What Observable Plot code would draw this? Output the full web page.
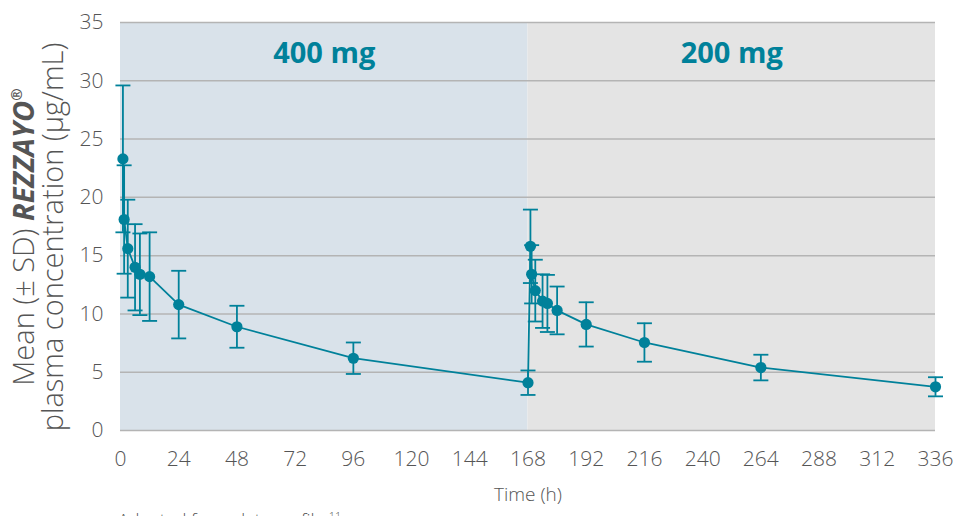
<!DOCTYPE html>
<html>
<head>
<meta charset="utf-8">
<script src="https://cdn.jsdelivr.net/npm/d3@7"></script>
<script src="https://cdn.jsdelivr.net/npm/@observablehq/plot@0.6"></script>
<style>
  html, body { margin: 0; padding: 0; background: #fff; overflow: hidden; }
  #foot { margin: 2px 0 0 118px; font-family: "Open Sans", sans-serif; font-size: 18px; line-height: 18px; color: #555; font-weight: 300; white-space: nowrap; }
</style>
</head>
<body>
<div id="chart"></div>
<div id="foot">Adapted from data on file.<sup style="font-size:11px">11</sup></div>
<script>
// Sampling times (h)
const time = [1, 1.5, 3, 6, 8, 12, 24, 48, 96, 168, 169, 169.5, 171, 174, 176, 180, 192, 216, 264, 336];
// Mean plasma concentration (µg/mL)
const mean = [23.3, 18.1, 15.6, 14.0, 13.4, 13.2, 10.8, 8.9, 6.2, 4.1, 15.8, 13.4, 12.0, 11.1, 10.9, 10.3, 9.1, 7.55, 5.4, 3.75];
// Standard deviation (µg/mL)
const sd = [6.3, 4.65, 4.2, 3.7, 3.5, 3.8, 2.9, 1.8, 1.35, 1.05, 3.15, 2.5, 2.65, 2.3, 2.45, 2.05, 1.9, 1.65, 1.1, 0.82];
// Dose phases
const phaseLabels = ["400 mg", "200 mg"];
const phaseStart = [0, 168];
const phaseEnd = [168, 336];
// Tick labels
const xTicks = [0, 24, 48, 72, 96, 120, 144, 168, 192, 216, 240, 264, 288, 312, 336];
const yTicks = [0, 5, 10, 15, 20, 25, 30, 35];

const teal = "#00819a";
const phaseFill = ["#d9e2ea", "#e4e4e4"];

const data = time.map((t, i) => ({t, mean: mean[i], sd: sd[i]}));
const phases = phaseLabels.map((label, i) => ({label, start: phaseStart[i], end: phaseEnd[i], fill: phaseFill[i]}));

const cap = {
  draw(context, size) {
    const r = Math.sqrt(size / Math.PI);
    context.moveTo(-r, 0);
    context.lineTo(r, 0);
  }
};

const svg = Plot.plot({
  width: 955,
  height: 505,
  marginLeft: 120,
  marginRight: 20,
  marginTop: 22,
  marginBottom: 75,
  style: {fontFamily: "Open Sans, sans-serif", fontSize: "21px", color: "#555", fontWeight: 300, background: "#fff"},
  x: {domain: [0, 336]},
  y: {domain: [0, 35]},
  marks: [
    Plot.rectY(phases, {x1: "start", x2: "end", y1: 0, y2: 35, fill: "fill", inset: 0}),
    Plot.ruleY(yTicks, {stroke: "#b4b4b4", strokeWidth: 1.5}),
    Plot.axisX({ticks: xTicks, tickSize: 0, tickPadding: 21, label: null, tickFormat: d => String(d)}),
    Plot.axisY({ticks: yTicks, tickSize: 0, tickPadding: 17, label: null}),
    Plot.ruleX(data, {x: "t", y1: d => d.mean - d.sd, y2: d => d.mean + d.sd, stroke: teal, strokeWidth: 1.8}),
    Plot.dot(data, {x: "t", y: d => d.mean + d.sd, symbol: cap, r: 7.5, stroke: teal, strokeWidth: 1.8, fill: "none"}),
    Plot.dot(data, {x: "t", y: d => d.mean - d.sd, symbol: cap, r: 7.5, stroke: teal, strokeWidth: 1.8, fill: "none"}),
    Plot.line(data, {x: "t", y: "mean", stroke: teal, strokeWidth: 1.8}),
    Plot.dot(data, {x: "t", y: "mean", r: 5.6, fill: teal, stroke: "none"}),
    Plot.text(phases, {x: d => (d.start + d.end) / 2, frameAnchor: "top", dy: 30, text: "label", fill: teal, fontWeight: 700, fontSize: 29, letterSpacing: "0.5px", dy: 20}),
    Plot.text(["Time (h)"], {frameAnchor: "bottom", dy: 70, text: d => d, fontSize: 19, fill: "#555"})
  ]
});

// Two-line rotated y-axis title with mixed styling
const g = d3.select(svg).append("g")
  .attr("font-family", "Open Sans, sans-serif")
  .attr("font-size", 29)
  .attr("font-weight", 300)
  .attr("fill", "#555")
  .attr("text-anchor", "middle");
const t1 = g.append("text").attr("transform", "translate(34,237) rotate(-90)");
t1.append("tspan").text("Mean (± SD) ");
t1.append("tspan").attr("font-weight", 700).attr("font-style", "italic").text("REZZAYO");
t1.append("tspan").attr("font-size", 15).attr("dy", -12).attr("font-weight", 700).text("®");
g.append("text").attr("transform", "translate(63,237) rotate(-90)").text("plasma concentration (µg/mL)");

document.getElementById("chart").appendChild(svg);
</script>
</body>
</html>
